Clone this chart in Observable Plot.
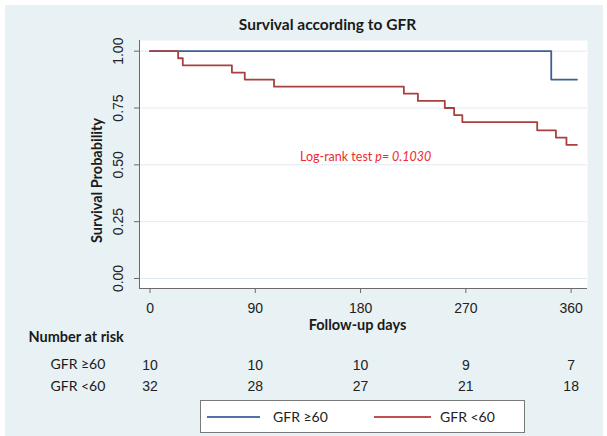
<!DOCTYPE html>
<html>
<head>
<meta charset="utf-8">
<script src="https://cdn.jsdelivr.net/npm/d3@7"></script>
<script src="https://cdn.jsdelivr.net/npm/@observablehq/plot@0.6"></script>
<style>
  html, body { margin: 0; padding: 0; background: #ffffff; }
  #wrap { position: relative; width: 607px; height: 436px; overflow: hidden; }
  #bg { position: absolute; left: 5px; top: 5px; width: 598px; height: 431px; background: #e8f1f4; }
  #chart { position: absolute; left: 0; top: 0; }
  #legend { position: absolute; left: 200px; top: 400px; width: 325px; height: 33px;
            border: 1px solid #7a7a7a; background: #ffffff; box-sizing: border-box;
            font-family: Lato, "Open Sans", sans-serif; font-size: 14px; color: #222; }
  .lg-line { position: absolute; top: 15px; height: 2px; }
  .lg-text { position: absolute; top: 7px; line-height: 17px; }
</style>
</head>
<body>
<div id="wrap">
  <div id="bg"></div>
  <div id="chart"></div>
  <div id="legend">
    <div class="lg-line" style="left:6px;width:53px;background:#4f72a8"></div>
    <div class="lg-text" style="left:72px">GFR ≥60</div>
    <div class="lg-line" style="left:173px;width:57px;background:#c0504d"></div>
    <div class="lg-text" style="left:239px">GFR &lt;60</div>
  </div>
</div>
<script>
// ---- data ----
const highDays = [0, 343, 365];
const highSurv = [1, 0.875, 0.875];
const lowDays = [0, 24, 28, 70, 81, 106, 217, 229, 252, 260, 267, 331, 347, 356, 365];
const lowSurv = [1, 0.969, 0.938, 0.906, 0.875, 0.844, 0.813, 0.781, 0.75, 0.719, 0.688, 0.652, 0.62, 0.588, 0.588];
const xTicks = [0, 90, 180, 270, 360];
const yTicks = [0, 0.25, 0.5, 0.75, 1];
const riskDays = [0, 90, 180, 270, 360];
const riskHigh = [10, 10, 10, 9, 7];
const riskLow = [32, 28, 27, 21, 18];
const groupLabels = ["GFR ≥60", "GFR <60"];

const high = highDays.map((d, i) => ({day: d, s: highSurv[i]}));
const low = lowDays.map((d, i) => ({day: d, s: lowSurv[i]}));
const riskH = riskDays.map((d, i) => ({day: d, n: riskHigh[i]}));
const riskL = riskDays.map((d, i) => ({day: d, n: riskLow[i]}));

const ML = 139, MT = 40;
const calibri = "Lato, 'Open Sans', sans-serif";
const arial = "'Liberation Sans', Arial, sans-serif";
// fixed-position label helper (pixel coordinates of the picture)
function label(t, px, py, o = {}) {
  return Plot.text([t], {text: d => d, frameAnchor: "top-left", dx: px - ML, dy: py - MT,
    textAnchor: "middle", lineAnchor: "middle",
    fontFamily: calibri, fill: "#1a1a1a", ...o});
}

const chart = Plot.plot({
  width: 607, height: 436,
  marginLeft: ML, marginRight: 20, marginTop: MT, marginBottom: 148,
  style: {background: "transparent", fontFamily: arial, fontSize: "14px", color: "#222", overflow: "visible"},
  x: {domain: [-9, 374]},
  y: {domain: [-0.044, 1.047]},
  marks: [
    Plot.frame({fill: "white", stroke: null}),
    Plot.ruleY(yTicks, {stroke: "#e0ebf1", strokeWidth: 1}),
    Plot.line(high, {x: "day", y: "s", curve: "step-after", stroke: "#3d5f94", strokeWidth: 1.8}),
    Plot.line(low, {x: "day", y: "s", curve: "step-after", stroke: "#a8403f", strokeWidth: 1.8}),
    Plot.ruleX([-9], {stroke: "#6a6a6a"}),
    Plot.ruleY([-0.044], {stroke: "#6a6a6a"}),
    Plot.axisY({ticks: yTicks, tickSize: 5, tickFormat: () => "", label: null, stroke: "#6a6a6a"}),
    Plot.axisX({ticks: xTicks, tickSize: 5, tickFormat: () => "", label: null, stroke: "#6a6a6a"}),
    Plot.text(yTicks, {y: d => d, text: d => d.toFixed(2), frameAnchor: "left", dx: -21, rotate: -90,
      textAnchor: "middle", lineAnchor: "middle", fontFamily: arial, fontSize: 14, fill: "#222"}),
    Plot.text(xTicks, {x: d => d, text: d => String(d), frameAnchor: "bottom", dy: 20,
      textAnchor: "middle", lineAnchor: "middle", fontFamily: arial, fontSize: 14, fill: "#222"}),
    Plot.text(riskH, {x: "day", text: "n", frameAnchor: "bottom", dy: 77.5, textAnchor: "middle", lineAnchor: "middle",
      fontFamily: arial, fontSize: 14, fill: "#222"}),
    Plot.text(riskL, {x: "day", text: "n", frameAnchor: "bottom", dy: 98, textAnchor: "middle", lineAnchor: "middle",
      fontFamily: arial, fontSize: 14, fill: "#222"}),
    label("Survival according to GFR", 327, 25, {fontWeight: "bold", fontSize: 15.5}),
    label("Survival Probability", 97, 180, {fontWeight: "bold", fontSize: 14.5, rotate: -90}),
    label("Follow-up days", 357, 325, {fontWeight: "bold", fontSize: 14.5}),
    label("Number at risk", 28, 337, {fontWeight: "bold", fontSize: 14.5, textAnchor: "start"}),
    label(groupLabels[0], 50, 364, {fontSize: 14, textAnchor: "start"}),
    label(groupLabels[1], 50, 386, {fontSize: 14, textAnchor: "start"}),
    Plot.text(["Log-rank test"], {x: 190, y: 0.534, text: d => d, textAnchor: "end", fontFamily: calibri, fontSize: 12.5, fill: "#ee2a2e"}),
    Plot.text(["p= 0.1030"], {x: 190, y: 0.534, dx: 3, text: d => d, textAnchor: "start", fontFamily: calibri, fontSize: 12.5, fontStyle: "italic", fill: "#ee2a2e"})
  ]
});
document.getElementById("chart").appendChild(chart);
</script>
</body>
</html>
